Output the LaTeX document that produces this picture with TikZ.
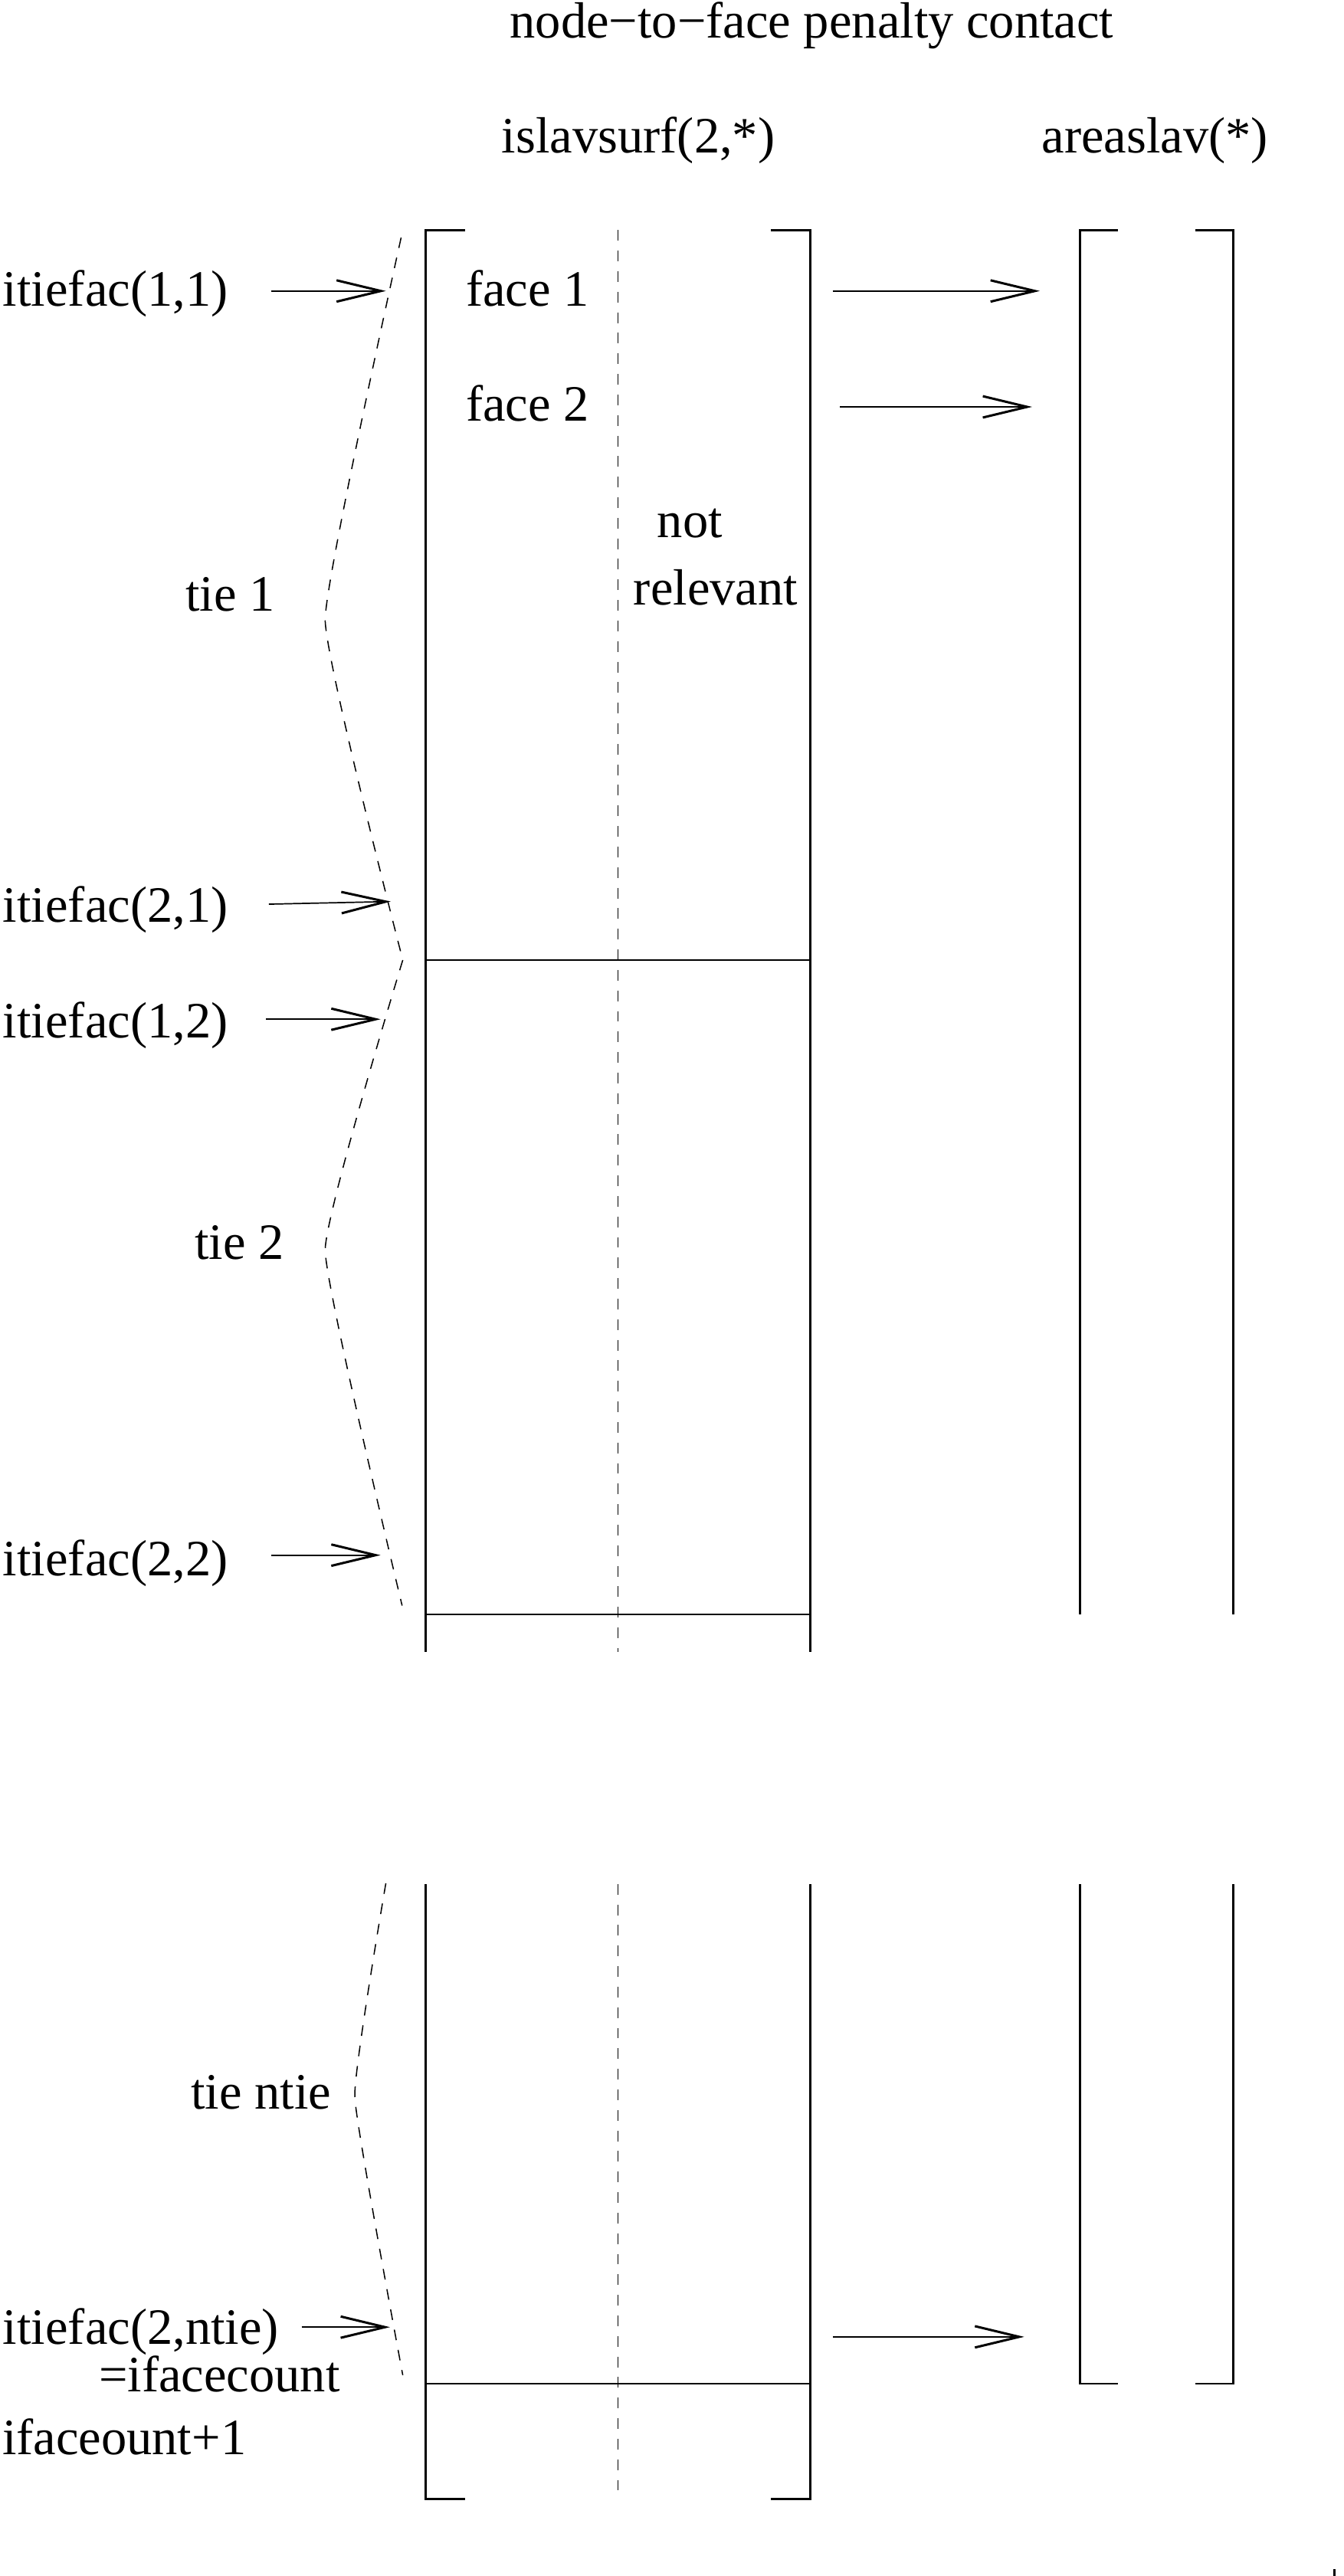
\documentclass[tikz,border=0pt]{standalone}
\usepackage{fontspec}
\setmainfont{Liberation Serif}
\usetikzlibrary{arrows.meta}
\begin{document}
\begin{tikzpicture}[x=1pt,y=-1pt,
  lbl/.style={anchor=base west, inner sep=0pt, font=\fontsize{31}{37}\selectfont},
  frame/.style={line width=1.3pt},
  sep/.style={line width=1pt},
  mid/.style={line width=0.7pt, dash pattern=on 6.5pt off 6pt},
  brace/.style={line width=0.7pt, dash pattern=on 6.5pt off 6pt},
  ptr/.style={line width=0.8pt, -{Straight Barb[length=27pt,width=13pt,line width=1.4pt]}}
]
\useasboundingbox (0,0) rectangle (817.5,1567);

% headings
\node[lbl] (title) at (310,23) {node−to−face penalty contact};
\node[lbl] (isl) at (305,93) {islavsurf(2,*)};
\node[lbl] (area) at (633.5,93) {areaslav(*)};

% islavsurf array, upper part
\draw[frame] (283,140) -- (259,140) -- (259,1005);
\draw[frame] (469,140) -- (493,140) -- (493,1005);
\draw[sep] (259,584) -- (493,584);
\draw[sep] (259,982) -- (493,982);
\draw[mid] (376,140) -- (376,1005);

% islavsurf array, lower part
\draw[frame] (259,1146) -- (259,1520) -- (283,1520);
\draw[frame] (493,1146) -- (493,1520) -- (469,1520);
\draw[sep] (259,1450) -- (493,1450);
\draw[mid] (376,1146) -- (376,1518);

% areaslav array
\draw[frame] (680,140) -- (657,140) -- (657,982);
\draw[frame] (727,140) -- (750,140) -- (750,982);
\draw[frame] (657,1146) -- (657,1450) -- (680,1450);
\draw[frame] (750,1146) -- (750,1450) -- (727,1450);

% texts inside
\node[lbl] (f1) at (283.2,186.4) {face 1};
\node[lbl] (f2) at (283.2,256.3) {face 2};
\node[lbl] (nt) at (399.6,327) {not};
\node[lbl] (rel) at (385.2,368) {relevant};

% tie braces
\draw[brace] plot[smooth, tension=0.2] coordinates {(244,144.5) (197.8,377) (245,584)};
\draw[brace] plot[smooth, tension=0.2] coordinates {(245,584) (197.8,760.4) (244.6,976.7)};
\draw[brace] plot[smooth, tension=0.2] coordinates {(234.7,1145.6) (215.8,1275.5) (245,1444.8)};

\node[lbl] (t1) at (112.8,371.5) {tie 1};
\node[lbl] (t2) at (118.4,766.2) {tie 2};
\node[lbl] (tn) at (116,1283) {tie ntie};

% left labels
\node[lbl] (i11) at (1.6,186) {itiefac(1,1)};
\node[lbl] (i21) at (1.6,560.7) {itiefac(2,1)};
\node[lbl] (i12) at (1.6,631.5) {itiefac(1,2)};
\node[lbl] (i22) at (1.6,958.7) {itiefac(2,2)};
\node[lbl] (i2n) at (1.6,1426.2) {itiefac(2,ntie)};
\node[lbl] (ifc) at (60,1455) {=ifacecount};
\node[lbl] (ifc1) at (1.2,1493) {ifaceount+1};

% arrow end points
\coordinate (a11s) at (165,177);   \coordinate (a11e) at (234.7,177);
\coordinate (a21s) at (163.5,550); \coordinate (a21e) at (237.7,548.4);
\coordinate (a12s) at (161.8,620); \coordinate (a12e) at (231.5,620);
\coordinate (a22s) at (165,946);   \coordinate (a22e) at (231.5,946);
\coordinate (a2ns) at (183.5,1415.6); \coordinate (a2ne) at (237.2,1415.6);
\coordinate (r1s) at (506.6,177);  \coordinate (r1e) at (632.5,177);
\coordinate (r2s) at (511,247.5);  \coordinate (r2e) at (627.8,247.5);
\coordinate (r3s) at (506.7,1421.5); \coordinate (r3e) at (623,1421.5);

\draw[ptr] (a11s) -- (a11e);
\draw[ptr] (a21s) -- (a21e);
\draw[ptr] (a12s) -- (a12e);
\draw[ptr] (a22s) -- (a22e);
\draw[ptr] (a2ns) -- (a2ne);
\draw[ptr] (r1s) -- (r1e);
\draw[ptr] (r2s) -- (r2e);
\draw[ptr] (r3s) -- (r3e);

% stray mark at bottom right
\fill (811,1563) rectangle (812.5,1567);
\end{tikzpicture}
\end{document}
